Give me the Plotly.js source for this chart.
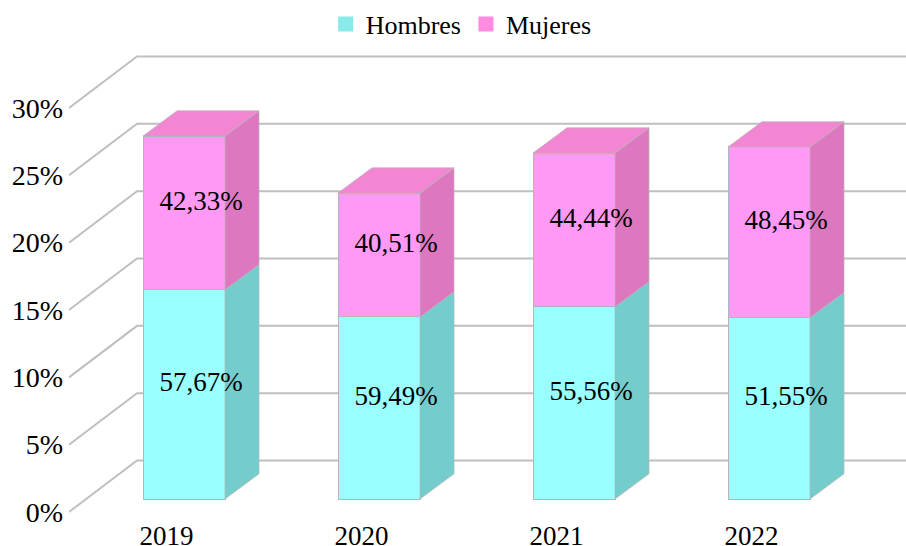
<!DOCTYPE html>
<html><head><meta charset="utf-8">
<script src="https://cdn.plot.ly/plotly-3.0.1.min.js"></script>
<style>html,body{margin:0;padding:0;background:#fff}</style></head>
<body><div id="chart" style="width:906px;height:546px"></div>
<script>
const categories = ['2019','2020','2021','2022'];
const hombres = [15.54,13.52,14.27,13.47];
const mujeres = [11.41,9.20,11.42,12.67];
const hombresLabels = ['57,67%','59,49%','55,56%','51,55%'];
const mujeresLabels = ['42,33%','40,51%','44,44%','48,45%'];
const gridValues = [0,5,10,15,20,25,30];

const FONT = '"Liberation Serif", serif';
const W=906,H=546,L=69,T=0,B=517;
const pxX=195, pxY=13.467;
const rangeX=[(L-184)/pxX,(W-184)/pxX];
const rangeY=[(512-B)/pxY,(512-T)/pxY];
const barShift=13/pxY;
const rangeY2=[rangeY[0]-barShift,rangeY[1]-barShift];
const barW=82/pxX, depX=34/pxX, depY=25.2/pxY;
const wallX=68/pxX, wallY=51.5/pxY;
const pos=categories.map((c,i)=>i);
const tickShift=17.5/pxX;
const labelDrop=2.5/pxY;
const edge='#b5b5b5';

const traces=[];
const gx=[],gy=[];
gridValues.forEach(v=>{
  gx.push(rangeX[0],rangeX[0]+wallX,rangeX[1],null);
  gy.push(v,v+wallY,v+wallY,null);
});
traces.push({type:'scatter',mode:'lines',x:gx,y:gy,line:{color:'#bfbfbf',width:2},showlegend:false,hoverinfo:'skip',xaxis:'x',yaxis:'y'});
traces.push({type:'bar',name:'Hombres',x:pos,y:hombres,width:barW,marker:{color:'#99ffff',line:{color:edge,width:1}},showlegend:false,xaxis:'x',yaxis:'y2'});
traces.push({type:'bar',name:'Mujeres',x:pos,y:mujeres,width:barW,marker:{color:'#ff99f5',line:{color:edge,width:1}},showlegend:false,xaxis:'x',yaxis:'y2'});
function face(xs,ys,color){
  traces.push({type:'scatter',mode:'lines',x:xs,y:ys,fill:'toself',fillcolor:color,line:{color:edge,width:0.7},showlegend:false,hoverinfo:'skip',xaxis:'x',yaxis:'y2'});
}
pos.forEach((p,i)=>{
  const r=p+barW/2,l=p-barW/2,h=hombres[i],t=h+mujeres[i];
  face([r,r+depX,r+depX,r,r],[0,depY,h+depY,h,0],'#74cccc');
  face([r,r+depX,r+depX,r,r],[h,h+depY,t+depY,t,h],'#dd78c0');
  face([l,l+depX,r+depX,r,l],[t,t+depY,t+depY,t,t],'#f286d3');
});
traces.push({type:'scatter',mode:'text',x:pos.map(p=>p+depX/2),y:hombres.map(h=>h/2+depY/2-labelDrop),text:hombresLabels,textposition:'middle center',textfont:{family:FONT,size:27,color:'#000'},showlegend:false,hoverinfo:'skip',cliponaxis:false,xaxis:'x',yaxis:'y2'});
traces.push({type:'scatter',mode:'text',x:pos.map(p=>p+depX/2),y:hombres.map((h,i)=>h+mujeres[i]/2+depY/2-labelDrop),text:mujeresLabels,textposition:'middle center',textfont:{family:FONT,size:27,color:'#000'},showlegend:false,hoverinfo:'skip',cliponaxis:false,xaxis:'x',yaxis:'y2'});
traces.push({type:'scatter',mode:'markers',name:'Hombres',x:[null],y:[null],marker:{symbol:'square',size:15,color:'#8aeaea'},xaxis:'x',yaxis:'y2'});
traces.push({type:'scatter',mode:'markers',name:'Mujeres',x:[null],y:[null],marker:{symbol:'square',size:15,color:'#ff8ae0'},xaxis:'x',yaxis:'y2'});

const layout={
  width:W,height:H,margin:{l:L,r:0,t:T,b:H-B,pad:0},
  paper_bgcolor:'#fff',plot_bgcolor:'rgba(0,0,0,0)',
  font:{family:FONT,size:27,color:'#000'},
  showlegend:true,
  legend:{orientation:'h',traceorder:'normal',x:0.4685,xanchor:'center',y:1-24/B,yanchor:'middle',font:{family:FONT,size:26,color:'#000'},itemwidth:30,bgcolor:'rgba(0,0,0,0)',itemclick:false,itemdoubleclick:false},
  xaxis:{range:rangeX,tickmode:'array',tickvals:pos.map(p=>p-tickShift),ticktext:categories,showgrid:false,zeroline:false,showline:false,ticks:'',tickfont:{family:FONT,size:27}},
  yaxis:{range:rangeY,tickmode:'array',tickvals:gridValues,ticktext:gridValues.map(v=>v+'%'),showgrid:false,zeroline:false,showline:false,ticks:'',ticklabelstandoff:5,tickfont:{family:FONT,size:28}},
  yaxis2:{range:rangeY2,overlaying:'y',side:'left',visible:false,showgrid:false,zeroline:false},
  barmode:'stack',bargap:0,hovermode:false
};
Plotly.newPlot('chart',traces,layout,{displayModeBar:false,staticPlot:true});
</script></body></html>
